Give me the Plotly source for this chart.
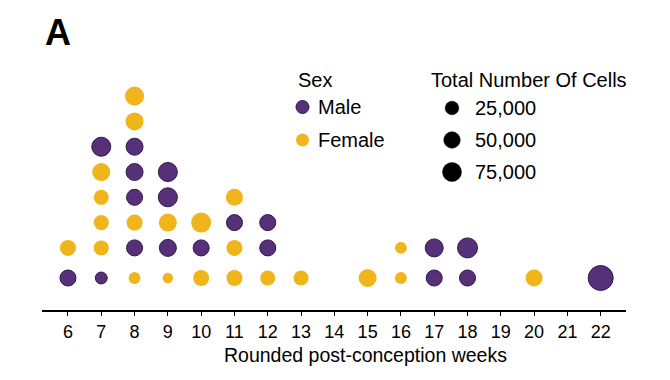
import numpy as np
import plotly.graph_objects as go

# ---- data (listed bottom-to-top within each week) ----
weeks = [6, 6,
         7, 7, 7, 7, 7, 7,
         8, 8, 8, 8, 8, 8, 8, 8,
         9, 9, 9, 9, 9,
         10, 10, 10,
         11, 11, 11, 11,
         12, 12, 12,
         13,
         15,
         16, 16,
         17, 17,
         18, 18,
         20,
         22]
sex = ["Male", "Female",
       "Male", "Female", "Female", "Female", "Female", "Male",
       "Female", "Male", "Female", "Male", "Male", "Male", "Female", "Female",
       "Female", "Male", "Female", "Male", "Male",
       "Female", "Male", "Female",
       "Female", "Female", "Male", "Female",
       "Female", "Male", "Male",
       "Female",
       "Female",
       "Female", "Female",
       "Male", "Male",
       "Male", "Male",
       "Female",
       "Male"]
cells = [45000, 45000,
         12000, 36000, 36000, 36000, 64000, 75000,
         12000, 45000, 45000, 45000, 54000, 54000, 64000, 75000,
         2500, 54000, 64000, 75000, 75000,
         45000, 45000, 86000,
         45000, 45000, 45000, 54000,
         36000, 45000, 45000,
         36000,
         64000,
         12000, 12000,
         45000, 64000,
         45000, 86000,
         54000,
         150000]

week_ticks = list(range(6, 23))
size_legend_values = [25000, 50000, 75000]
size_legend_labels = ["25,000", "50,000", "75,000"]
sex_levels = ["Male", "Female"]
colors = {"Male": "#56317A", "Female": "#F1B51C"}
outline = {"Male": "#2F1A4A", "Female": "#F1B51C"}
x_title = "Rounded post-conception weeks"

FONT = "Liberation Sans, Arial, sans-serif"
BOTTOM_GAP = 1.19


def diam(n):
    return np.sqrt(100 + 0.0035 * np.asarray(n, dtype=float))


# stack position within each week
counts = {}
rows = []
for w in weeks:
    counts[w] = counts.get(w, 0) + 1
    k = counts[w]
    rows.append(k + (BOTTOM_GAP - 1 if k > 1 else 0))

weeks_a = np.array(weeks)
sex_a = np.array(sex)
cells_a = np.array(cells)
rows_a = np.array(rows)

fig = go.Figure()
for s in sex_levels:
    m = sex_a == s
    fig.add_trace(go.Scatter(
        x=weeks_a[m], y=rows_a[m], mode="markers",
        marker=dict(size=diam(cells_a[m]), color=colors[s],
                    line=dict(color=outline[s], width=1 if s == "Male" else 0),
                    opacity=1),
        hoverinfo="skip", showlegend=False, xaxis="x", yaxis="y"))

# ---- custom legends on an auxiliary pixel-like axis pair ----
sex_leg_y = [107, 140]
fig.add_trace(go.Scatter(
    x=[302.5, 302.5], y=sex_leg_y, mode="markers",
    marker=dict(size=13, color=[colors[s] for s in sex_levels], opacity=1,
                line=dict(color=[outline[s] for s in sex_levels], width=[1, 0])),
    hoverinfo="skip", showlegend=False, xaxis="x2", yaxis="y2"))
size_leg_y = [108, 140, 172]
fig.add_trace(go.Scatter(
    x=[452] * 3, y=size_leg_y, mode="markers",
    marker=dict(size=diam(size_legend_values), color="#000000", opacity=1,
                line=dict(color="#000000", width=0.5)),
    hoverinfo="skip", showlegend=False, xaxis="x2", yaxis="y2"))

LEG = 20
ann = []
ann.append(dict(x=296, y=80, text="Sex", xref="x2", yref="y2", showarrow=False,
                xanchor="left", yanchor="middle", font=dict(size=LEG, color="black", family=FONT)))
for s, yy in zip(sex_levels, sex_leg_y):
    ann.append(dict(x=316, y=yy, text=s, xref="x2", yref="y2", showarrow=False,
                    xanchor="left", yanchor="middle", font=dict(size=LEG, color="black", family=FONT)))
ann.append(dict(x=429, y=80, text="Total Number Of Cells", xref="x2", yref="y2", showarrow=False,
                xanchor="left", yanchor="middle", font=dict(size=LEG, color="black", family=FONT)))
for lab, yy in zip(size_legend_labels, size_leg_y):
    ann.append(dict(x=473, y=yy, text=lab, xref="x2", yref="y2", showarrow=False,
                    xanchor="left", yanchor="middle", font=dict(size=LEG, color="black", family=FONT)))
ann.append(dict(x=43, y=32, text="<b>A</b>", xref="x2", yref="y2", showarrow=False,
                xanchor="left", yanchor="middle", font=dict(size=36, color="black", family=FONT)))
# axis title, placed in paper coordinates (below the plot area)
ann.append(dict(x=(365 - 42) / 584, y=(310 - 355) / 290, text=x_title, xref="paper", yref="paper",
                showarrow=False, xanchor="center", yanchor="middle",
                font=dict(size=19.5, color="black", family=FONT)))

fig.update_layout(
    width=670, height=380,
    margin=dict(l=42, r=44, t=20, b=70),
    paper_bgcolor="white", plot_bgcolor="white",
    font=dict(family=FONT, color="black"),
    annotations=ann,
    xaxis=dict(range=[5.22, 22.76], tickmode="array", tickvals=week_ticks,
               ticktext=[str(t) for t in week_ticks],
               ticks="outside", ticklen=4, tickwidth=1.3, tickcolor="black",
               showline=True, linecolor="black", linewidth=1.8,
               showgrid=False, zeroline=False,
               tickfont=dict(size=18, color="black", family=FONT)),
    yaxis=dict(range=[-0.265, 11.2], visible=False, showgrid=False, zeroline=False),
    xaxis2=dict(range=[42, 626], overlaying="x", anchor="y2", visible=False),
    yaxis2=dict(range=[310, 20], overlaying="y", anchor="x2", visible=False),
)

fig.write_html("out.html")
